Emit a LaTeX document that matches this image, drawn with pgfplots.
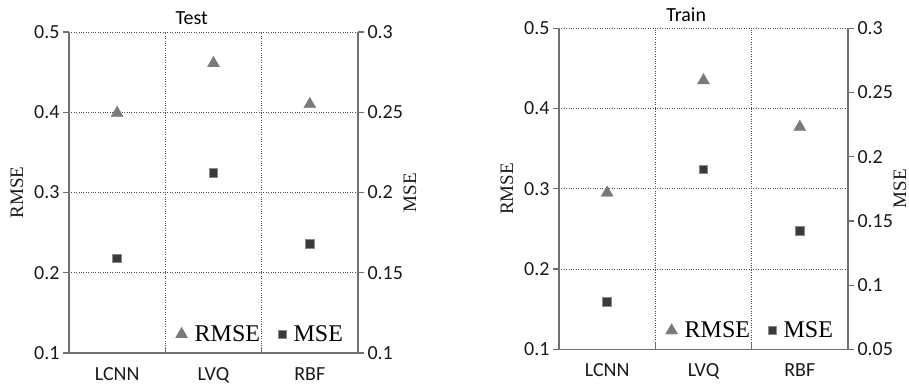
\documentclass[border=0pt]{standalone}
\usepackage{pgfplots}
\pgfplotsset{compat=1.18}
\usepackage{fontspec}
\setmainfont{Carlito}
\newfontfamily\seriffont{Liberation Serif}
\definecolor{axgray}{HTML}{707070}
\definecolor{gridgray}{HTML}{4A4A4A}
\definecolor{tri}{HTML}{7A7A7A}
\definecolor{sqfill}{HTML}{3A3A3A}
\definecolor{sqedge}{HTML}{8A8A8A}
\definecolor{txt}{HTML}{1A1A1A}

\pgfplotsset{
  base/.style={
    scale only axis, width=289pt, height=321pt,
    xmin=-0.5, xmax=2.5,
    /pgf/number format/assume math mode=true,
    tick label style={font=\fontsize{20}{22}\selectfont, text=txt},
    label style={font=\seriffont\fontsize{19}{20}\selectfont, text=txt, inner sep=0pt},
    axis line style={axgray, line width=1.3pt},
    tick style={axgray, line width=1.2pt},
    tick align=outside,
    major tick length=6pt,
  },
  rmse/.style={only marks, mark=triangle*, mark size=7pt, mark options={fill=tri, draw=tri, line width=0.3pt}},
  mse/.style={only marks, mark=square*, mark size=4.3pt, mark options={fill=sqfill, draw=sqedge, line width=0.9pt}},
  leftax/.style={
    base,
    axis x line*=bottom, axis y line*=left,
    ymin=0.1, ymax=0.5, ytick={0.1,0.2,0.3,0.4,0.5},
    yticklabels={0.1,0.2,0.3,0.4,0.5},
    xtick={0.5,1.5}, xticklabels={,},
    xtick align=inside,
    xmajorgrids, ymajorgrids,
    grid style={gridgray, dotted, line width=0.9pt},
    extra x ticks={0,1,2}, extra x tick labels={LCNN,LVQ,RBF},
    extra x tick style={grid=none, major tick length=0pt, tick label style={yshift=-11pt}},
    ylabel={RMSE}, ylabel style={at={(axis description cs:-0.18,0.5)}, anchor=center},
  },
  rightax/.style={
    base,
    axis x line=none, axis y line*=right,
    ylabel={MSE}, ylabel style={at={(axis description cs:1.18,0.5)}, anchor=center},
    legend columns=2,
    legend style={at={(axis description cs:0.955,0.025)}, anchor=south east, draw=none, fill=none,
      font=\seriffont\fontsize{24}{24}\selectfont, text=black,
      /tikz/every even column/.append style={column sep=16pt},
      /tikz/every odd column/.append style={column sep=5pt},
      inner sep=0pt, outer sep=0pt},
    legend cell align=left,
  },
}

\begin{document}
\begin{tikzpicture}
\path[use as bounding box] (0pt,0pt) rectangle (909pt,386pt);

% ---------- Test ----------
\begin{axis}[leftax, at={(69pt,33pt)}, anchor=south west,
  title={Test}, title style={at={(axis description cs:0.425,1)}, anchor=base, yshift=2pt, font=\fontsize{20}{22}\selectfont}]
\addplot[rmse] coordinates {(0,0.399) (1,0.461) (2,0.410)};
\end{axis}
\begin{axis}[rightax, at={(69pt,33pt)}, anchor=south west,
  ymin=0.1, ymax=0.3, ytick={0.1,0.15,0.2,0.25,0.3}, yticklabels={0.1,0.15,0.2,0.25,0.3}]
\addlegendimage{rmse}
\addlegendentry{RMSE}
\addplot[mse] coordinates {(0,0.159) (1,0.212) (2,0.168)};
\addlegendentry{MSE}
\end{axis}

% ---------- Train ----------
\begin{axis}[leftax, at={(559pt,36.7pt)}, anchor=south west,
  title={Train}, title style={at={(axis description cs:0.44,1)}, anchor=base, yshift=1pt, font=\fontsize{20}{22}\selectfont}]
\addplot[rmse] coordinates {(0,0.295) (1,0.435) (2,0.377)};
\end{axis}
\begin{axis}[rightax, at={(559pt,36.7pt)}, anchor=south west,
  ymin=0.05, ymax=0.3, ytick={0.05,0.1,0.15,0.2,0.25,0.3}, yticklabels={0.05,0.1,0.15,0.2,0.25,0.3}]
\addlegendimage{rmse}
\addlegendentry{RMSE}
\addplot[mse] coordinates {(0,0.087) (1,0.190) (2,0.142)};
\addlegendentry{MSE}
\end{axis}
\end{tikzpicture}
\end{document}
